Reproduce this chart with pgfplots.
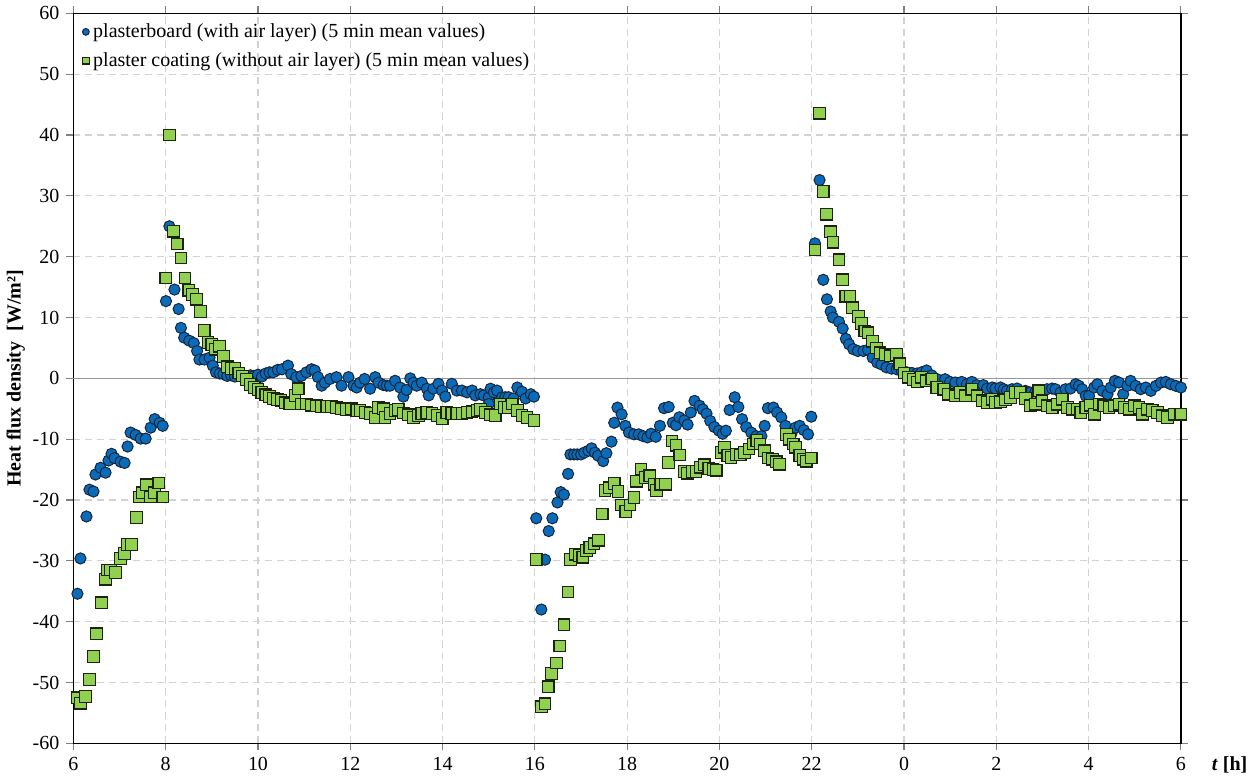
\documentclass[border=0pt]{standalone}
\usepackage{pgfplots}
\pgfplotsset{compat=1.18}
\usepackage{fontspec}
\setmainfont{Liberation Serif}
\definecolor{bluept}{HTML}{0A6CB8}
\definecolor{blueedge}{HTML}{16263F}
\definecolor{greenpt}{HTML}{92D050}
\definecolor{greenedge}{HTML}{1C2410}
\begin{document}
\begin{tikzpicture}
\begin{axis}[
 scale only axis, width=554.5pt, height=365.5pt,
 xmin=6, xmax=30, ymin=-60, ymax=60,
 xtick={6,8,...,30}, xticklabels={6,8,10,12,14,16,18,20,22,0,2,4,6},
 ytick={-60,-50,...,60},
 /pgf/number format/assume math mode=true,
 tick label style={font=\fontsize{10}{12}\selectfont},
 grid=major,
 major grid style={gray!35, dash pattern=on 3.5pt off 2.5pt, line width=0.6pt},
 axis line style={black, line width=0.8pt},
 tick align=outside, major tick length=3.5pt, tick style={gray, line width=0.6pt},
 extra y ticks={0}, extra y tick labels={},
 extra y tick style={grid=major, major grid style={solid, gray!80, line width=0.6pt}, tick style={draw=none}},
 ylabel={\textbf{Heat flux density\ \ [W/m²]}},
 ylabel style={at={(ticklabel cs:0.5)}, font=\fontsize{10}{12}\selectfont},
 ylabel shift=-10pt,
 xlabel={\textbf{\textit{t} [h]}},
 xlabel style={at={(axis description cs:1,0)}, anchor=north west, xshift=12pt, yshift=-3pt, font=\fontsize{10}{12}\selectfont},
 legend style={at={(axis description cs:0.006,0.995)}, anchor=north west, draw=none, fill=none, font=\fontsize{10}{12}\selectfont, row sep=2pt, inner sep=1pt},
 legend cell align=left,
 legend image post style={mark size=1.7pt},
 clip=false,
]
\addplot[only marks, mark=*, mark size=2.8pt, mark options={fill=bluept, draw=blueedge, line width=0.5pt}] coordinates {
(6.087,-35.4) (6.152,-29.6) (6.283,-22.7) (6.348,-18.3) (6.435,-18.6) (6.478,-15.8) (6.587,-14.7) (6.696,-15.5)
(6.761,-13.5) (6.826,-12.4) (6.891,-13.1) (7.022,-13.7) (7.109,-13.9) (7.174,-11.2) (7.239,-8.9) (7.348,-9.3)
(7.457,-9.9) (7.565,-9.9) (7.674,-8.1) (7.761,-6.7) (7.870,-7.3) (7.935,-7.8)
(8.006,12.7) (8.08,25.0) (8.19,14.6) (8.28,11.4) (8.33,8.3) (8.40,6.7) (8.51,6.2) (8.61,5.8) (8.68,4.5) (8.73,3.1)
(8.84,3.1) (8.95,3.4) (9.02,2.1) (9.09,1.0) (9.17,0.8) (9.25,0.7) (9.333,0.4) (9.417,0.5) (9.5,0.3) (9.583,0.6)
(9.667,0.4) (9.75,0.2) (9.833,0.5) (9.917,0.4) (10.0,0.6) (10.083,0.3) (10.167,0.8) (10.25,1.0) (10.33,1.0)
(10.43,1.4) (10.52,1.5) (10.65,2.1) (10.72,0.7) (10.83,0.2) (10.94,0.4) (11.05,1.0) (11.16,1.5) (11.23,1.3)
(11.30,0.2) (11.38,-1.2) (11.45,-0.7) (11.56,-0.1) (11.7,0.2) (11.81,-1.2) (11.96,0.2) (12.07,-1.2) (12.14,-1.5)
(12.21,-0.7) (12.31,-0.1) (12.43,-1.7) (12.54,0.2) (12.61,-0.7) (12.72,-1.1) (12.79,-1.2) (12.86,-1.2) (12.97,-0.4)
(13.08,-1.5) (13.15,-3.0) (13.22,-1.9) (13.3,0.0) (13.37,-0.7) (13.44,-1.2) (13.55,-0.7) (13.66,-1.7) (13.70,-2.8)
(13.8,-1.7) (13.91,-0.9) (13.99,-2.0) (14.06,-3.0) (14.2,-0.9) (14.31,-2.0) (14.42,-2.0) (14.53,-2.3) (14.64,-2.0)
(14.71,-2.8) (14.82,-2.6) (14.89,-2.8) (15.0,-3.1) (15.0,-4.2) (15.04,-1.7) (15.11,-2.3) (15.18,-2.0) (15.29,-3.1)
(15.36,-3.1) (15.43,-3.1) (15.54,-3.3) (15.62,-1.5) (15.72,-2.2) (15.8,-3.3) (15.91,-2.6) (15.98,-3.0)
(16.03,-23.0) (16.14,-38.0) (16.22,-29.8) (16.3,-25.1) (16.38,-23.0) (16.49,-20.4) (16.56,-18.7) (16.63,-19.1)
(16.72,-15.7) (16.77,-12.5) (16.85,-12.5) (16.92,-12.5) (17.0,-12.5) (17.07,-12.2) (17.16,-11.9) (17.23,-11.5)
(17.3,-12.2) (17.37,-12.7) (17.48,-13.6) (17.55,-12.3) (17.66,-10.4) (17.72,-7.3) (17.79,-4.8) (17.88,-5.9)
(17.96,-7.8) (18.04,-8.9) (18.15,-9.2) (18.25,-9.2) (18.35,-9.5) (18.44,-9.7) (18.52,-9.1) (18.62,-9.6) (18.71,-7.8)
(18.8,-4.9) (18.9,-4.7) (18.99,-7.3) (19.06,-7.7) (19.13,-6.4) (19.24,-6.9) (19.31,-7.6) (19.38,-5.6) (19.46,-3.7)
(19.57,-4.5) (19.64,-5.1) (19.72,-5.8) (19.8,-7.0) (19.89,-8.0) (19.99,-8.6) (20.07,-9.1) (20.14,-8.6) (20.22,-5.2)
(20.33,-3.1) (20.41,-4.7) (20.49,-6.7) (20.58,-8.0) (20.69,-8.9) (20.8,-9.5) (20.91,-9.5) (20.98,-7.8) (21.05,-4.9)
(21.17,-4.8) (21.25,-5.6) (21.34,-6.4) (21.43,-7.8) (21.56,-9.1) (21.65,-8.1) (21.74,-7.8) (21.83,-8.5) (21.92,-9.2)
(21.99,-6.3)
(22.07,22.2) (22.17,32.6) (22.25,16.2) (22.33,13.0) (22.41,11.0) (22.46,10.0) (22.59,9.3) (22.67,8.2) (22.74,6.5)
(22.81,5.6) (22.9,4.8) (23.0,4.5) (23.12,4.5) (23.22,4.7) (23.32,3.4) (23.42,2.6) (23.51,2.3) (23.62,1.8) (23.73,1.6)
(23.84,1.5) (23.95,1.2) (24.06,1.0) (24.17,0.9) (24.28,0.8) (24.38,1.0) (24.49,1.3) (24.6,0.5) (24.71,-0.1)
(24.89,-0.14) (25.0,-0.58) (25.11,-0.68) (25.25,-0.58) (25.36,-0.96) (25.47,-0.58) (25.58,-1.12) (25.72,-1.12)
(25.8,-1.67) (25.91,-1.5) (25.98,-1.67) (26.09,-1.5) (26.16,-1.78) (26.23,-2.05) (26.34,-1.78) (26.45,-1.67)
(26.56,-2.2) (26.63,-2.05) (26.74,-2.33) (26.85,-2.2) (26.96,-2.33) (27.1,-1.78) (27.21,-1.67) (27.28,-1.78)
(27.39,-2.33) (27.5,-1.78) (27.61,-1.67) (27.72,-0.96) (27.79,-1.23) (27.86,-1.78) (27.94,-2.87) (28.01,-2.87)
(28.12,-1.5) (28.19,-0.96) (28.3,-2.05) (28.41,-2.6) (28.48,-1.5) (28.57,-0.41) (28.66,-0.68) (28.75,-2.6)
(28.84,-1.23) (28.91,-0.41) (29.02,-1.23) (29.13,-1.78) (29.24,-1.5) (29.35,-2.05) (29.46,-1.23) (29.57,-0.68)
(29.67,-0.58) (29.78,-0.96) (29.89,-1.23) (30.0,-1.5)
};
\addlegendentry{plasterboard (with air layer) (5 min mean values)}
\addplot[only marks, mark=square*, mark size=2.9pt, mark options={fill=greenpt, draw=greenedge, line width=0.6pt}] coordinates {
(6.087,-52.5) (6.152,-53.4) (6.261,-52.3) (6.348,-49.5) (6.435,-45.7) (6.5,-42.0) (6.609,-36.9) (6.696,-33.0)
(6.739,-31.5) (6.804,-31.5) (6.913,-31.9) (7.022,-29.6) (7.109,-28.8) (7.174,-27.3) (7.261,-27.3) (7.37,-22.9)
(7.435,-19.5) (7.5,-18.8) (7.587,-17.5) (7.674,-19.5) (7.761,-18.8) (7.848,-17.2) (7.935,-19.5)
(8.0,16.5) (8.083,40.0) (8.167,24.2) (8.25,22.1) (8.333,19.8) (8.417,16.5) (8.5,14.5) (8.583,13.8) (8.667,13.0)
(8.75,11.0) (8.833,7.9) (8.917,5.9) (9.0,5.6) (9.083,4.8) (9.167,5.3) (9.25,3.6) (9.333,1.9) (9.417,1.6) (9.5,1.6)
(9.583,0.9) (9.667,0.4) (9.75,-0.2) (9.833,-1.0) (9.917,-1.5) (10.0,-1.8) (10.083,-2.3) (10.167,-2.7) (10.25,-3.0)
(10.333,-3.3) (10.417,-3.5) (10.5,-3.6) (10.583,-4.0) (10.69,-4.2) (10.8,-2.8) (10.87,-1.7)
(10.94,-4.2) (11.05,-4.2) (11.16,-4.4) (11.27,-4.5) (11.38,-4.6) (11.49,-4.6) (11.59,-4.6) (11.7,-4.8) (11.81,-5.0)
(11.92,-5.1) (12.03,-5.0) (12.14,-5.3) (12.21,-5.3) (12.32,-5.6) (12.43,-5.8) (12.54,-6.4) (12.61,-4.8) (12.72,-5.0)
(12.75,-6.4) (12.86,-5.8) (12.97,-5.3) (13.04,-5.1) (13.15,-5.7) (13.26,-6.0) (13.37,-6.4) (13.48,-6.1) (13.55,-5.8)
(13.66,-5.6) (13.77,-5.8) (13.88,-6.1) (13.99,-6.6) (14.09,-5.6) (14.2,-5.8) (14.31,-5.8) (14.42,-5.8) (14.53,-5.6)
(14.64,-5.5) (14.75,-5.3) (14.82,-5.1) (14.93,-5.6) (15.04,-6.0) (15.14,-6.1) (15.25,-4.2) (15.33,-4.8) (15.43,-4.8)
(15.51,-4.2) (15.62,-5.3) (15.72,-6.1) (15.83,-6.4) (15.98,-6.9)
(16.03,-29.8) (16.14,-54.0) (16.22,-53.5) (16.29,-50.7) (16.36,-48.5) (16.47,-46.8) (16.54,-44.0) (16.63,-40.5)
(16.72,-35.1) (16.77,-29.8) (16.87,-28.9) (16.96,-29.1) (17.04,-29.4) (17.12,-28.3) (17.19,-27.8) (17.28,-27.2)
(17.38,-26.6) (17.46,-22.3) (17.52,-18.4) (17.62,-18.0) (17.72,-17.3) (17.8,-18.6) (17.88,-20.8) (17.97,-21.9)
(18.06,-20.8) (18.15,-19.6) (18.2,-16.9) (18.3,-14.9) (18.39,-16.3) (18.49,-16.0) (18.59,-17.4) (18.64,-18.4)
(18.73,-17.4) (18.83,-17.4) (18.9,-13.8) (18.97,-10.3) (19.06,-11.0) (19.14,-12.6) (19.24,-15.3) (19.31,-15.6)
(19.41,-15.3) (19.49,-15.3) (19.58,-14.6) (19.67,-14.2) (19.77,-14.8) (19.86,-15.0) (19.93,-15.1) (20.04,-12.2)
(20.11,-11.3) (20.18,-12.7) (20.25,-13.0) (20.36,-12.5) (20.45,-12.6) (20.54,-12.2) (20.64,-11.6) (20.74,-10.8)
(20.81,-10.2) (20.88,-10.8) (20.98,-11.9) (21.05,-13.1) (21.15,-13.3) (21.23,-13.7) (21.3,-14.1) (21.45,-9.2)
(21.52,-10.0) (21.6,-10.8) (21.65,-11.3) (21.74,-12.7) (21.81,-13.3) (21.88,-13.6) (21.99,-13.1)
(22.07,21.1) (22.17,43.6) (22.25,30.7) (22.32,27.0) (22.41,24.1) (22.46,22.4) (22.59,19.5) (22.67,16.2) (22.74,13.5)
(22.83,13.5) (22.88,11.6) (23.01,10.2) (23.08,9.0) (23.15,7.8) (23.22,7.5) (23.32,6.1) (23.4,5.0) (23.48,4.2)
(23.59,3.9) (23.7,3.7) (23.84,3.9) (23.91,2.4) (24.0,0.9) (24.1,0.2) (24.2,-0.2) (24.29,-0.6) (24.38,0.2) (24.49,-0.4)
(24.6,-0.1) (24.71,-1.5)
(24.86,-1.78) (24.96,-2.6) (25.11,-2.87) (25.22,-2.33) (25.33,-2.87) (25.47,-1.78) (25.58,-2.87) (25.69,-3.7)
(25.8,-3.97) (25.91,-3.42) (25.98,-3.97) (26.09,-3.86) (26.2,-3.53) (26.31,-3.15) (26.41,-2.33) (26.52,-2.33)
(26.63,-3.31) (26.74,-4.5) (26.85,-4.24) (26.92,-2.05) (26.99,-3.7) (27.1,-4.5) (27.21,-4.8) (27.32,-4.24)
(27.43,-3.42) (27.54,-4.8) (27.65,-5.06) (27.75,-5.06) (27.83,-5.6) (27.94,-4.8) (28.04,-4.4) (28.13,-5.9)
(28.23,-4.24) (28.33,-4.5) (28.44,-4.8) (28.55,-4.5) (28.66,-4.24) (28.77,-4.8) (28.88,-5.06) (28.99,-4.5)
(29.09,-4.8) (29.17,-5.9) (29.28,-5.06) (29.38,-5.3) (29.49,-5.6) (29.6,-6.16) (29.71,-6.4) (29.86,-5.9) (30.0,-5.9)
};
\addlegendentry{plaster coating (without air layer) (5 min mean values)}
\end{axis}
\end{tikzpicture}
\end{document}
